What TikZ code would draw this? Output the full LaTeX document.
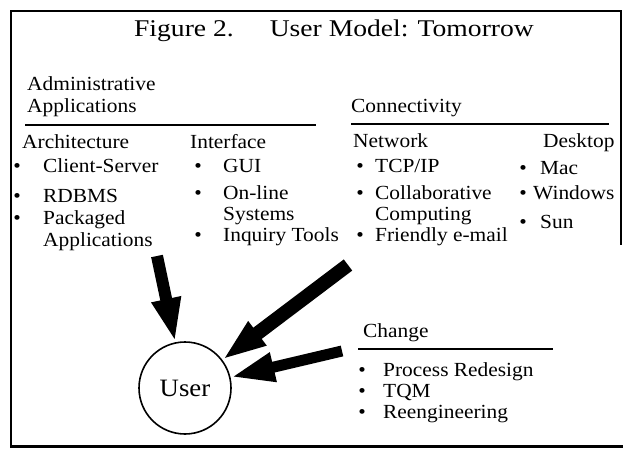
\documentclass[tikz,border=0pt]{standalone}
\usepackage{fontspec}
\setmainfont{Liberation Serif}[FakeStretch=1.07]
\newfontfamily\titlefont{Liberation Serif}[FakeStretch=1.15]
\usetikzlibrary{arrows.meta}

\begin{document}
\begin{tikzpicture}[x=1pt,y=-1pt,
  txt/.style={anchor=base west, inner sep=0pt, font=\fontsize{20}{22}\selectfont},
  dot/.style={anchor=base, inner sep=0pt, font=\fontsize{20}{22}\selectfont},
  rulebar/.style={line width=2pt},
  framebar/.style={line width=1.8pt},
  bigarrow/.style={line cap=butt, -{Triangle[length=44pt,width=27pt]}}
]
\useasboundingbox (0,0) rectangle (624,452);

% outer frame
\draw[framebar] (11,447) -- (11,11) -- (621,11) -- (621,245);
\draw[line width=3pt] (10,446) -- (623,446);

% title
\node[anchor=base, inner sep=0pt, font=\titlefont\fontsize{24}{26}\selectfont] (title) at (334,37)
  {Figure 2.\hspace{36pt}User Model: Tomorrow};

% group headings
\node[txt] (adm1) at (27,90) {Administrative};
\node[txt] (adm2) at (27,112) {Applications};
\draw[rulebar] (25,125) -- (316,125);
\node[txt] (conn) at (351,112) {Connectivity};
\draw[rulebar] (351,124) -- (609,124);

% column headings
\node[txt] (arch) at (22,148) {Architecture};
\node[txt] (intf) at (190,148) {Interface};
\node[txt] (netw) at (353,147) {Network};
\node[txt] (desk) at (543,147) {Desktop};

% Architecture
\node[dot] (b1) at (17,172) {\textbullet};
\node[txt] (a1) at (43,172) {Client-Server};
\node[dot] (b2) at (17,202) {\textbullet};
\node[txt] (a2) at (43,202) {RDBMS};
\node[dot] (b3) at (17,224) {\textbullet};
\node[txt] (a3) at (43,224) {Packaged};
\node[txt] (a4) at (43,246) {Applications};

% Interface
\node[dot] (b4) at (198,172) {\textbullet};
\node[txt] (i1) at (223,172) {GUI};
\node[dot] (b5) at (198,199) {\textbullet};
\node[txt] (i2) at (223,199) {On-line};
\node[txt] (i3) at (223,220) {Systems};
\node[dot] (b6) at (198,241) {\textbullet};
\node[txt] (i4) at (223,241) {Inquiry Tools};

% Network
\node[dot] (b7) at (360,172) {\textbullet};
\node[txt] (n1) at (375,172) {TCP/IP};
\node[dot] (b8) at (360,199) {\textbullet};
\node[txt] (n2) at (375,199) {Collaborative};
\node[txt] (n3) at (375,220) {Computing};
\node[dot] (b9) at (360,241) {\textbullet};
\node[txt] (n4) at (375,241) {Friendly e-mail};

% Desktop
\node[dot] (b10) at (523,174) {\textbullet};
\node[txt] (d1) at (540,174) {Mac};
\node[dot] (b11) at (523,199) {\textbullet};
\node[txt] (d2) at (533,199) {Windows};
\node[dot] (b12) at (523,228) {\textbullet};
\node[txt] (d3) at (540,228) {Sun};

% Change
\node[txt] (chg) at (363,337) {Change};
\draw[rulebar] (358,349) -- (553,349);
\node[dot] (b13) at (362,376) {\textbullet};
\node[txt] (c1) at (383,376) {Process Redesign};
\node[dot] (b14) at (362,397) {\textbullet};
\node[txt] (c2) at (383,397) {TQM};
\node[dot] (b15) at (362,418) {\textbullet};
\node[txt] (c3) at (383,418) {Reengineering};

% the user
\node[circle, draw, line width=1.6pt, minimum size=92pt, inner sep=0pt,
      font=\fontsize{25}{27}\selectfont] (user) at (185,388) {User};

% arrows into the user
\coordinate (tArch) at (157,256);
\coordinate (tConn) at (348,265);
\coordinate (tChg) at (342,351);
\draw[bigarrow, line width=12pt] (tArch) -- (user);
\draw[bigarrow, line width=14pt] (tConn) -- (user);
\draw[bigarrow, line width=11pt] (tChg) -- (user);
\end{tikzpicture}
\end{document}
